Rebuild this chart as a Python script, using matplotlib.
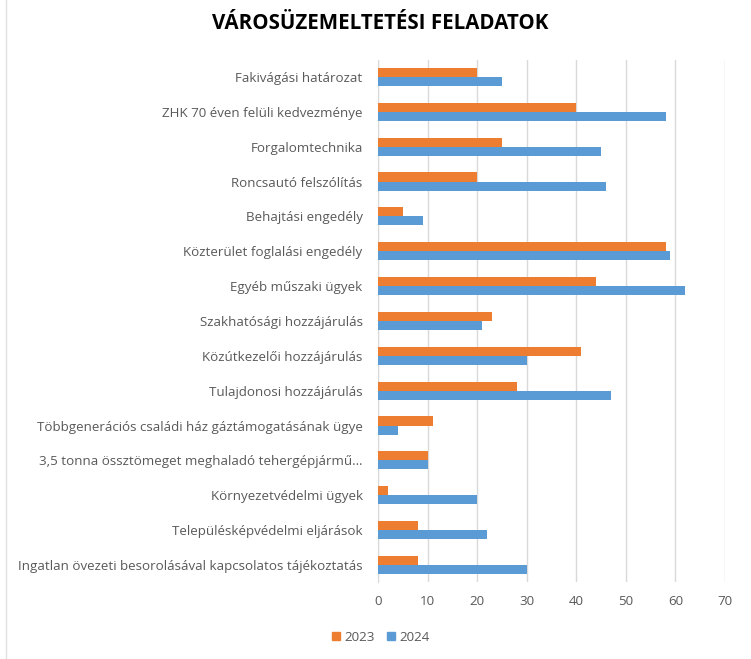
import matplotlib
matplotlib.use("Agg")
import matplotlib.pyplot as plt
import numpy as np
from matplotlib.patches import Patch
from matplotlib.lines import Line2D

categories = [
    "Fakivágási határozat",
    "ZHK 70 éven felüli kedvezménye",
    "Forgalomtechnika",
    "Roncsautó felszólítás",
    "Behajtási engedély",
    "Közterület foglalási engedély",
    "Egyéb műszaki ügyek",
    "Szakhatósági hozzájárulás",
    "Közútkezelői hozzájárulás",
    "Tulajdonosi hozzájárulás",
    "Többgenerációs családi ház gáztámogatásának ügye",
    "3,5 tonna össztömeget meghaladó tehergépjármű…",
    "Környezetvédelmi ügyek",
    "Településképvédelmi eljárások",
    "Ingatlan övezeti besorolásával kapcsolatos tájékoztatás",
]
values_2023 = [20, 40, 25, 20, 5, 58, 44, 23, 41, 28, 11, 10, 2, 8, 8]
values_2024 = [25, 58, 45, 46, 9, 59, 62, 21, 30, 47, 4, 10, 20, 22, 30]
series_names = ["2023", "2024"]
x_ticks = [0, 10, 20, 30, 40, 50, 60, 70]
title = "VÁROSÜZEMELTETÉSI FELADATOK"

c2023 = "#ED7D31"
c2024 = "#5B9BD5"
label_color = "#595959"

plt.rcParams['font.family'] = ['Open Sans', 'DejaVu Sans']

fig = plt.figure(figsize=(7.51, 6.59), dpi=100)
ax = fig.add_axes([0.5033, 0.1163, 0.9654 - 0.5033, 0.9096 - 0.1163])

n = len(categories)
pos = np.arange(n)
h = 0.26
ax.barh(pos - h / 2, values_2023, height=h, color=c2023, zorder=3)
ax.barh(pos + h / 2, values_2024, height=h, color=c2024, zorder=3)

ax.set_ylim(n - 0.5, -0.5)
ax.set_xlim(0, 70)
ax.set_xticks(x_ticks)
ax.set_yticks(pos)
ax.set_yticklabels(categories, fontsize=9.6, color=label_color)
ax.tick_params(axis='x', labelsize=9.6, labelcolor=label_color, length=0, pad=9)
ax.tick_params(axis='y', length=0, pad=11)
ax.grid(axis='x', color="#D9D9D9", linewidth=1, zorder=0)
for s in ["top", "right", "bottom"]:
    ax.spines[s].set_visible(False)
ax.spines["left"].set_color("#D9D9D9")

fig.text(0.506, 0.965, title, ha='center', va='center', fontsize=14.8,
         fontweight='bold', color="#000000")

# spreadsheet edge line at the far left
fig.add_artist(Line2D([6 / 751, 6 / 751], [0, 1], color="#E0E0E0", linewidth=1))

handles = [Patch(color=c2023, label=series_names[0]), Patch(color=c2024, label=series_names[1])]
fig.legend(handles=handles, loc='center', bbox_to_anchor=(0.507, 0.033), ncol=2,
           frameon=False, fontsize=9.6, labelcolor=label_color, handlelength=0.6,
           handleheight=0.6, handletextpad=0.35, columnspacing=0.9)

fig.savefig("out.png", dpi=100, facecolor="white")
